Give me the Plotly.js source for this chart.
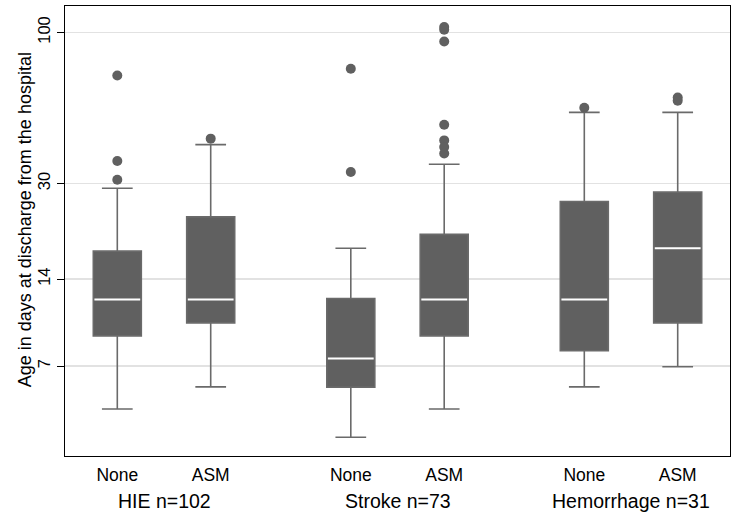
<!DOCTYPE html>
<html>
<head>
<meta charset="utf-8">
<script src="https://cdn.plot.ly/plotly-3.0.1.min.js"></script>
<style>html,body{margin:0;padding:0;background:#fff;}#chart{width:736px;height:517px;}</style>
</head>
<body>
<div id="chart"></div>
<script>
// Box categories and positions
const boxLabels = ["None", "ASM", "None", "ASM", "None", "ASM"];
const boxPositions = [0, 1, 2.5, 3.5, 5, 6];
const groupLabels = ["HIE n=102", "Stroke n=73", "Hemorrhage n=31"];
const groupPositions = [0.5, 3, 5.5];

// Box statistics (days)
const lowerWhisker = [4.97, 5.93, 3.97, 4.97, 5.93, 6.96];
const q1Values     = [8.91, 9.88, 5.92, 8.91, 7.91, 9.88];
const medianValues = [11.9, 11.9, 7.44, 11.9, 11.9, 17.9];
const q3Values     = [17.5, 23.0, 12.0, 20.0, 26.0, 28.0];
const upperWhisker = [28.9, 40.9, 17.9, 35.0, 52.9, 52.9];

// Outliers per box
const outliers = [
  [71.0, 35.9, 30.9],
  [42.9],
  [74.9, 32.9],
  [104.5, 102.2, 93.1, 47.9, 42.3, 40.1, 38.1],
  [54.9],
  [59.5, 58.0]
];

// Y ticks
const yTickVals = [7, 14, 30, 100];
const yTickText = ["7", "14", "30", "100"];

const boxWidth = 0.514;
const medianHalf = 0.245;

const boxTrace = {
  type: 'box',
  x: boxPositions,
  q1: q1Values,
  median: medianValues,
  q3: q3Values,
  lowerfence: lowerWhisker,
  upperfence: upperWhisker,
  width: boxWidth,
  whiskerwidth: 0.64,
  fillcolor: '#606060',
  line: {color: '#6a6a6a', width: 1.6},
  boxpoints: false,
  hoverinfo: 'skip',
  showlegend: false
};

// white median lines
const medX = [], medY = [];
boxPositions.forEach((p, i) => {
  medX.push(p - medianHalf, p + medianHalf, null);
  medY.push(medianValues[i], medianValues[i], null);
});
const medianTrace = {
  type: 'scatter', mode: 'lines', x: medX, y: medY,
  line: {color: '#ffffff', width: 2}, hoverinfo: 'skip', showlegend: false
};

const outX = [], outY = [];
outliers.forEach((arr, i) => arr.forEach(v => { outX.push(boxPositions[i]); outY.push(v); }));
const outlierTrace = {
  type: 'scatter', mode: 'markers', x: outX, y: outY,
  marker: {color: '#606060', size: 10, line: {width: 0}},
  hoverinfo: 'skip', showlegend: false
};

const font = "'Liberation Sans', Arial, Helvetica, sans-serif";

const layout = {
  width: 736, height: 517,
  margin: {l: 65, r: 6, t: 5.5, b: 61},
  paper_bgcolor: '#ffffff', plot_bgcolor: '#ffffff',
  font: {family: font, color: '#000', size: 16},
  showlegend: false,
  boxmode: 'overlay',
  xaxis: {
    range: [-0.56, 6.56],
    tickvals: boxPositions, ticktext: boxLabels,
    ticks: '', showgrid: false, zeroline: false,
    showline: true, mirror: true, linecolor: '#000', linewidth: 1,
    tickfont: {size: 17.5, family: font},
    ticklabelstandoff: 3
  },
  yaxis: {
    type: 'log',
    range: [0.5339, 2.0916],
    tickvals: yTickVals, ticktext: yTickText,
    tickangle: -90,
    ticks: 'outside', ticklen: 7, tickcolor: '#000', tickwidth: 1,
    showgrid: true, gridcolor: '#e2e2e2', gridwidth: 1.5,
    zeroline: false,
    showline: true, mirror: true, linecolor: '#000', linewidth: 1,
    tickfont: {size: 16.5, family: font}
  },
  annotations: groupLabels.map((t, i) => ({
    text: t, x: groupPositions[i], xref: 'x', y: -0.1, yref: 'paper',
    xanchor: 'center', yanchor: 'middle', showarrow: false,
    font: {size: 19.5, family: font, color: '#000'}
  })).concat([{
    text: 'Age in days at discharge from the hospital',
    textangle: -90, x: -0.0602, xref: 'paper', y: 0.526, yref: 'paper',
    xanchor: 'center', yanchor: 'middle', showarrow: false,
    font: {size: 18, family: font, color: '#000'}
  }])
};

Plotly.newPlot('chart', [boxTrace, medianTrace, outlierTrace], layout, {staticPlot: true, displayModeBar: false});
</script>
</body>
</html>
